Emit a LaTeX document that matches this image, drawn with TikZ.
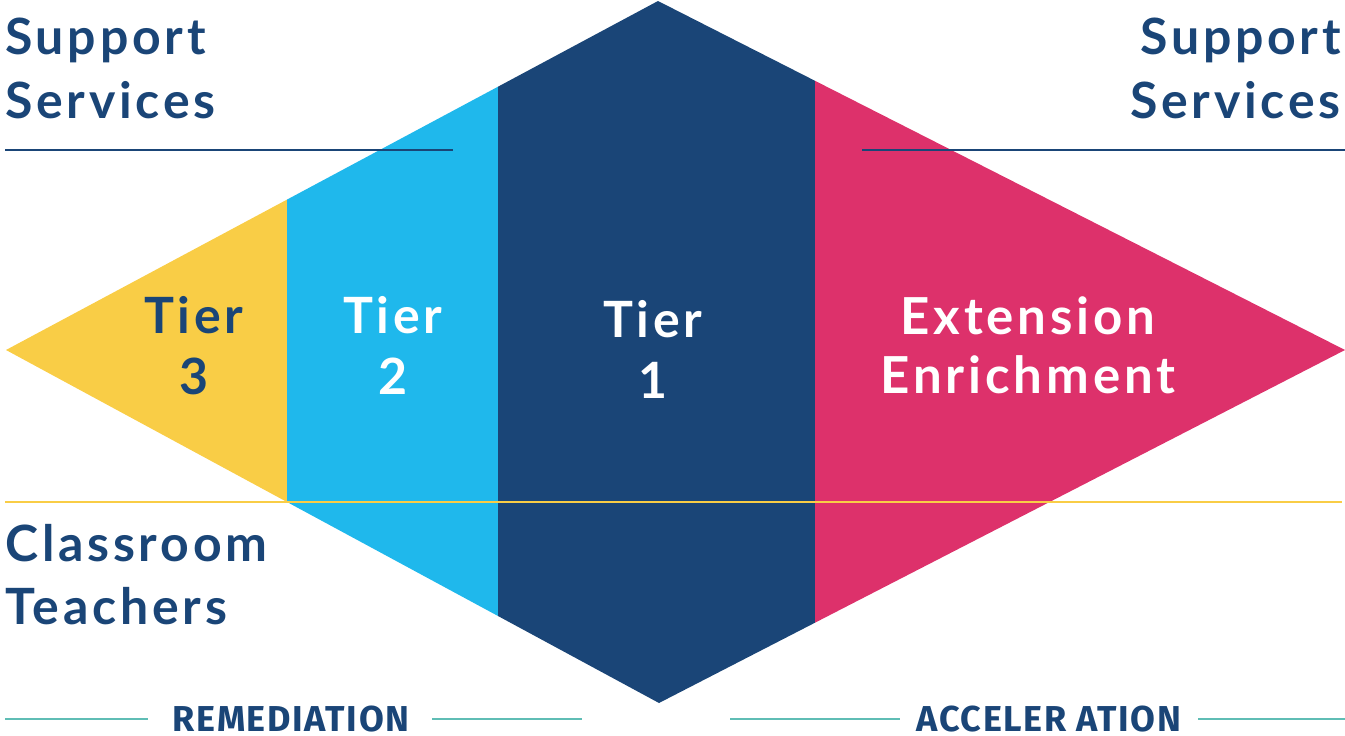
\documentclass[tikz,border=0pt]{standalone}
\usepackage{fontspec}
\newfontfamily\lab{Lato}[LetterSpace=7.5]
\newfontfamily\condfont{Fira Sans}[LetterSpace=4.5]
\definecolor{navy}{HTML}{1A4577}
\definecolor{sky}{HTML}{1FB8EC}
\definecolor{gold}{HTML}{F9CD46}
\definecolor{rose}{HTML}{DD316B}
\definecolor{teal}{HTML}{5FBDB5}
\tikzset{
  biglabel/.style={font=\lab\bfseries\fontsize{50}{61}\selectfont, align=center, inner sep=0pt},
  sidelabel/.style={font=\lab\bfseries\fontsize{50}{64}\selectfont, text=navy, inner sep=0pt},
  axislabel/.style={font=\condfont\bfseries\fontsize{36}{36}\selectfont, text=navy, inner sep=0pt, anchor=base},
  rule/.style={line width=2.2pt},
}
\begin{document}
\begin{tikzpicture}[x=1pt,y=-1pt]
\useasboundingbox (0,0) rectangle (1345,736);
\coordinate (L) at (6,350);
\coordinate (T) at (658,1);
\coordinate (R) at (1345,350);
\coordinate (B) at (659,703);
\coordinate (a1) at (287,199.6);
\coordinate (a2) at (287,502);
\coordinate (b1) at (498,86.7);
\coordinate (b2) at (498,616);
\coordinate (c1) at (815,80.8);
\coordinate (c2) at (815,622.7);
\fill[gold] (L) -- (a1) -- (a2) -- cycle;
\fill[sky] (a1) -- (b1) -- (b2) -- (a2) -- cycle;
\fill[navy] (b1) -- (T) -- (c1) -- (c2) -- (B) -- (b2) -- cycle;
\fill[rose] (c1) -- (R) -- (c2) -- cycle;
% rules
\coordinate (s1) at (5,150); \coordinate (s2) at (453,150);
\coordinate (s3) at (862,150); \coordinate (s4) at (1345,150);
\draw[rule, navy] (s1) -- (s2);
\draw[rule, navy] (s3) -- (s4);
\coordinate (y1) at (5,502); \coordinate (y2) at (1342,502);
\draw[rule, gold] (y1) -- (y2);
% tier labels
\node[biglabel, text=navy, anchor=north] (t3) at (194,296) {Tier\\3};
\node[biglabel, text=white, anchor=north] (t2) at (393,296) {Tier\\2};
\node[biglabel, text=white, anchor=north] (t1) at (653,300) {Tier\\1};
\node[biglabel, text=white, anchor=north, font=\lab\bfseries\fontsize{51}{59}\selectfont] (ext) at (1028,296) {Extension\\Enrichment};
% side labels
\node[sidelabel, anchor=north west, align=left] (ssl) at (5,18) {Support\\Services};
\node[sidelabel, anchor=north east, align=right] (ssr) at (1341,18) {Support\\Services};
\node[sidelabel, anchor=north west, align=left, font=\lab\bfseries\fontsize{50}{63}\selectfont] (ct) at (5,524) {Classroom\\Teachers};
% axis labels
\node[axislabel] (rem) at (291,731) {REMEDIATION};
\node[axislabel] (acc) at (1049,731) {ACCELER ATION};
\coordinate (r1) at (5,719); \coordinate (r2) at (148,719);
\coordinate (r3) at (432,719); \coordinate (r4) at (582,719);
\coordinate (q1) at (730,719); \coordinate (q2) at (900,719);
\coordinate (q3) at (1198,719); \coordinate (q4) at (1345,719);
\draw[rule, teal] (r1) -- (r2);
\draw[rule, teal] (r3) -- (r4);
\draw[rule, teal] (q1) -- (q2);
\draw[rule, teal] (q3) -- (q4);
\end{tikzpicture}
\end{document}
